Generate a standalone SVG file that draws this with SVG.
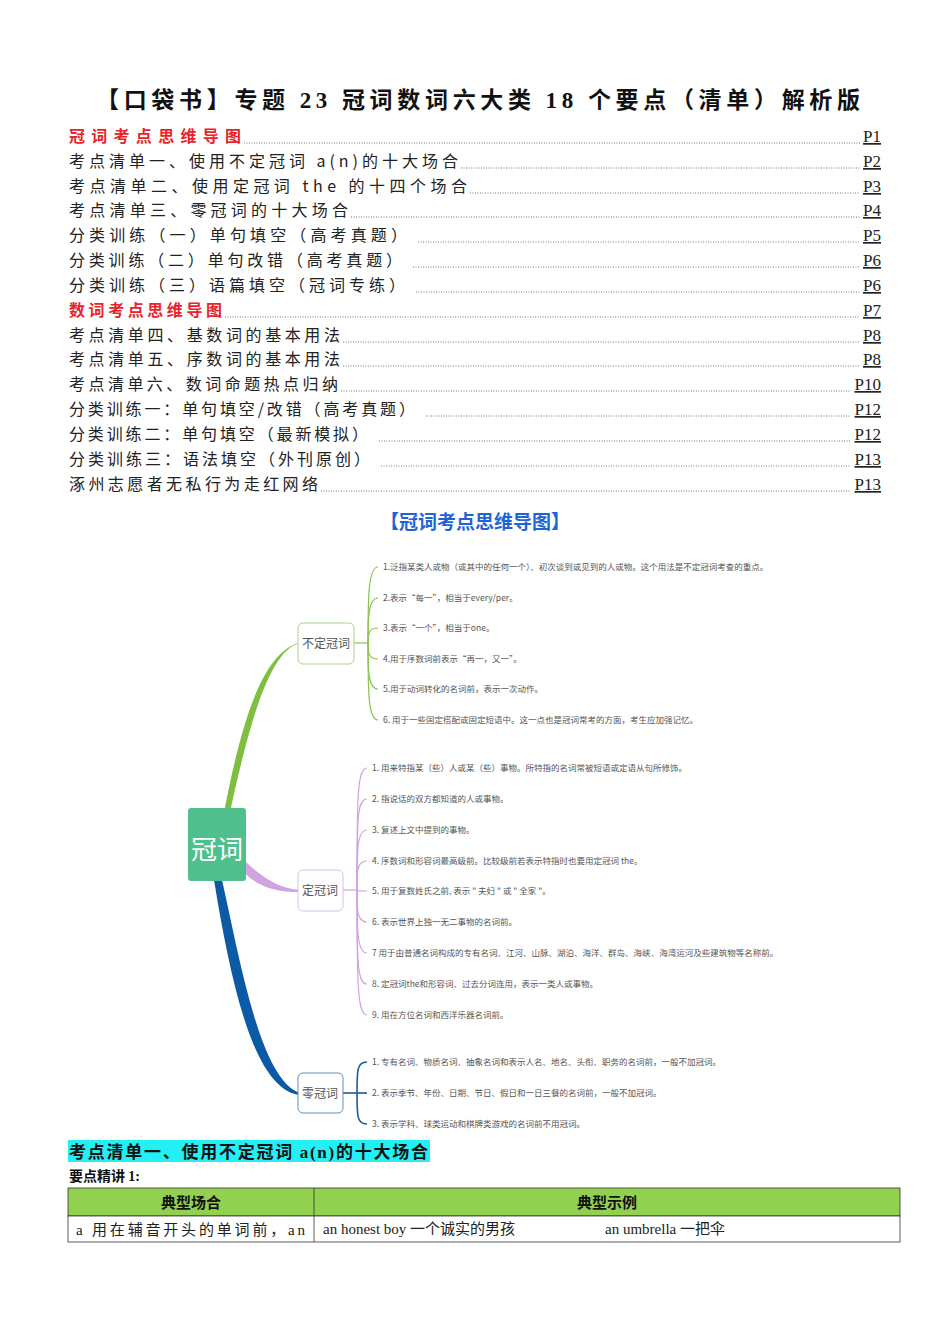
<svg xmlns="http://www.w3.org/2000/svg" width="950" height="1344" viewBox="0 0 950 1344">
<style>
.toc{font-family:"Noto Sans CJK SC","Liberation Serif",serif;font-size:16px;fill:#222}
.red{fill:#e8232a;font-weight:bold}
.pg{font-family:"Liberation Serif",serif;font-size:17px;fill:#222;text-decoration:underline}
.lead{stroke:#555;stroke-width:0.8;stroke-dasharray:1 1.5}
.it{font-family:"Noto Sans CJK SC",sans-serif;font-size:8.5px;fill:#555}
.nd{font-family:"Noto Sans CJK SC",sans-serif;font-size:12px;fill:#555}
.box{fill:#fff;stroke-width:1}
</style>
<rect width="950" height="1344" fill="#fff"/>
<text x="96" y="108" textLength="764" lengthAdjust="spacing" font-family="Noto Sans CJK SC,Liberation Serif,serif" font-size="23" font-weight="bold" fill="#111">【口袋书】专题 <tspan font-family="Liberation Serif">23</tspan> 冠词数词六大类 <tspan font-family="Liberation Serif">18</tspan> 个要点（清单）解析版</text>
<g id="toc">
<text class="toc red" x="69" y="142" textLength="172" lengthAdjust="spacing">冠词考点思维导图</text>
<text class="toc" x="69" y="167" textLength="389" lengthAdjust="spacing">考点清单一、使用不定冠词 a(n)的十大场合</text>
<text class="toc" x="69" y="192" textLength="398" lengthAdjust="spacing">考点清单二、使用定冠词 the 的十四个场合</text>
<text class="toc" x="69" y="216" textLength="279" lengthAdjust="spacing">考点清单三、零冠词的十大场合</text>
<text class="toc" x="69" y="241" textLength="338" lengthAdjust="spacing">分类训练（一）单句填空（高考真题）</text>
<text class="toc" x="69" y="266" textLength="333" lengthAdjust="spacing">分类训练（二）单句改错（高考真题）</text>
<text class="toc" x="69" y="291" textLength="336" lengthAdjust="spacing">分类训练（三）语篇填空（冠词专练）</text>
<text class="toc red" x="69" y="316" textLength="153" lengthAdjust="spacing">数词考点思维导图</text>
<text class="toc" x="69" y="341" textLength="271" lengthAdjust="spacing">考点清单四、基数词的基本用法</text>
<text class="toc" x="69" y="365" textLength="271" lengthAdjust="spacing">考点清单五、序数词的基本用法</text>
<text class="toc" x="69" y="390" textLength="269" lengthAdjust="spacing">考点清单六、数词命题热点归纳</text>
<text class="toc" x="69" y="415" textLength="346" lengthAdjust="spacing">分类训练一：单句填空/改错（高考真题）</text>
<text class="toc" x="69" y="440" textLength="299" lengthAdjust="spacing">分类训练二：单句填空（最新模拟）</text>
<text class="toc" x="69" y="465" textLength="301" lengthAdjust="spacing">分类训练三：语法填空（外刊原创）</text>
<text class="toc" x="69" y="490" textLength="249" lengthAdjust="spacing">涿州志愿者无私行为走红网络</text>
<g class="lead">
<line x1="244" y1="143" x2="860" y2="143"/><line x1="461" y1="168" x2="860" y2="168"/><line x1="470" y1="193" x2="860" y2="193"/><line x1="351" y1="217" x2="860" y2="217"/><line x1="418" y1="242" x2="860" y2="242"/><line x1="413" y1="267" x2="860" y2="267"/><line x1="416" y1="292" x2="860" y2="292"/><line x1="225" y1="317" x2="860" y2="317"/><line x1="343" y1="342" x2="860" y2="342"/><line x1="343" y1="366" x2="860" y2="366"/><line x1="341" y1="391" x2="850" y2="391"/><line x1="426" y1="416" x2="850" y2="416"/><line x1="379" y1="441" x2="850" y2="441"/><line x1="381" y1="466" x2="850" y2="466"/><line x1="321" y1="491" x2="850" y2="491"/>
</g>
<g class="pg" text-anchor="end">
<text x="881" y="142">P1</text><text x="881" y="167">P2</text><text x="881" y="192">P3</text><text x="881" y="216">P4</text><text x="881" y="241">P5</text><text x="881" y="266">P6</text><text x="881" y="291">P6</text><text x="881" y="316">P7</text><text x="881" y="341">P8</text><text x="881" y="365">P8</text><text x="881" y="390">P10</text><text x="881" y="415">P12</text><text x="881" y="440">P12</text><text x="881" y="465">P13</text><text x="881" y="490">P13</text>
</g>
</g>
<text x="475" y="529" text-anchor="middle" font-family="Noto Sans CJK SC,sans-serif" font-size="19" font-weight="bold" fill="#1e64d8">【冠词考点思维导图】</text>
<g id="connectors" fill="none">
<path d="M230 812 C250 720 270 650 300 643 L298 643 C262 655 242 720 224 812 Z" fill="#7fbf3f"/>
<path d="M246 862 C265 880 280 888 300 890 L300 892 C275 893 255 885 244 872 Z" fill="#cfa4e0"/>
<path d="M222 880 C240 960 260 1080 300 1093 L300 1095 C255 1090 232 990 214 880 Z" fill="#0b5aa6"/>
<g stroke="#8cc152" stroke-width="1.2">
<path d="M354 643 H368"/>
<path d="M368 643 C368 600 368 567 378 567"/><path d="M368 643 C368 620 368 598 378 598"/><path d="M368 643 C368 635 368 628 378 628"/><path d="M368 643 C368 652 368 659 378 659"/><path d="M368 643 C368 670 368 689 378 689"/><path d="M368 643 C368 690 368 720 378 720"/>
</g>
<g stroke="#cfa4e0" stroke-width="1.2">
<path d="M343 890 H357"/>
<path d="M357 890 C357 800 357 768 367 768"/><path d="M357 890 C357 820 357 799 367 799"/><path d="M357 890 C357 850 357 830 367 830"/><path d="M357 890 C357 870 357 861 367 861"/><path d="M357 890 C357 891 357 891 367 891"/><path d="M357 890 C357 910 357 922 367 922"/><path d="M357 890 C357 930 357 953 367 953"/><path d="M357 890 C357 960 357 984 367 984"/><path d="M357 890 C357 980 357 1015 367 1015"/>
</g>
<g stroke="#1a5a96" stroke-width="1.6">
<path d="M343 1093 H357"/>
<path d="M357 1093 C357 1070 357 1062 367 1062"/><path d="M357 1093 H367"/><path d="M357 1093 C357 1116 357 1124 367 1124"/>
</g>
</g>
<g id="root"><rect x="188" y="808" width="58" height="73" rx="3" fill="#4fc08d"/><text x="217" y="859" text-anchor="middle" font-family="Noto Sans CJK SC,sans-serif" font-size="26" fill="#fff">冠词</text></g>
<g id="n1"><rect class="box" x="298" y="623" width="56" height="41" rx="5" stroke="#a8d48a"/><text class="nd" x="326" y="648" text-anchor="middle">不定冠词</text></g>
<g id="n2"><rect class="box" x="298" y="870" width="45" height="41" rx="5" stroke="#dcc0e8"/><text class="nd" x="320" y="895" text-anchor="middle">定冠词</text></g>
<g id="n3"><rect class="box" x="298" y="1073" width="45" height="40" rx="5" stroke="#5f8fba"/><text class="nd" x="320" y="1098" text-anchor="middle">零冠词</text></g>
<g id="items1" class="it">
<text class="it" x="383" y="570">1.泛指某类人或物（或其中的任何一个）、初次谈到或见到的人或物。这个用法是不定冠词考查的重点。</text>
<text class="it" x="383" y="601">2.表示“每一”，相当于every/per。</text>
<text class="it" x="383" y="631">3.表示“一个”，相当于one。</text>
<text class="it" x="383" y="662">4.用于序数词前表示“再一，又一”。</text>
<text class="it" x="383" y="692">5.用于动词转化的名词前，表示一次动作。</text>
<text class="it" x="383" y="723">6. 用于一些固定搭配或固定短语中。这一点也是冠词常考的方面，考生应加强记忆。</text>
</g>
<g id="items2">
<text class="it" x="372" y="771">1. 用来特指某（些）人或某（些）事物。所特指的名词常被短语或定语从句所修饰。</text>
<text class="it" x="372" y="802">2. 指说话的双方都知道的人或事物。</text>
<text class="it" x="372" y="833">3. 复述上文中提到的事物。</text>
<text class="it" x="372" y="864">4. 序数词和形容词最高级前。比较级前若表示特指时也要用定冠词 the。</text>
<text class="it" x="372" y="894">5. 用于复数姓氏之前, 表示 " 夫妇 " 或 " 全家 "。</text>
<text class="it" x="372" y="925">6. 表示世界上独一无二事物的名词前。</text>
<text class="it" x="372" y="956">7 用于由普通名词构成的专有名词、江河、山脉、湖泊、海洋、群岛、海峡、海湾运河及些建筑物等名称前。</text>
<text class="it" x="372" y="987">8. 定冠词the和形容词、过去分词连用，表示一类人或事物。</text>
<text class="it" x="372" y="1018">9. 用在方位名词和西洋乐器名词前。</text>
</g>
<g id="items3">
<text class="it" x="372" y="1065">1. 专有名词、物质名词、抽象名词和表示人名、地名、头衔、职务的名词前，一般不加冠词。</text>
<text class="it" x="372" y="1096">2. 表示季节、年份、日期、节日、假日和一日三餐的名词前，一般不加冠词。</text>
<text class="it" x="372" y="1127">3. 表示学科、球类运动和棋牌类游戏的名词前不用冠词。</text>
</g>
<g id="section">
<rect x="68" y="1140" width="362" height="22" fill="#22f0f5"/>
<text x="69" y="1158" textLength="359" lengthAdjust="spacing" font-family="Noto Sans CJK SC,sans-serif" font-size="17" font-weight="bold" fill="#111">考点清单一、使用不定冠词 <tspan font-family="Liberation Serif">a(n)</tspan>的十大场合</text>
<text x="69" y="1181" font-family="Noto Sans CJK SC,Liberation Serif,serif" font-size="14" font-weight="bold" fill="#111">要点精讲 <tspan font-family="Liberation Serif">1:</tspan></text>
<rect x="68" y="1188" width="832" height="28" fill="#92d050" stroke="#333" stroke-width="0.8"/>
<rect x="68" y="1216" width="832" height="26" fill="#fff" stroke="#333" stroke-width="0.8"/>
<line x1="314" y1="1188" x2="314" y2="1242" stroke="#333" stroke-width="0.8"/>
<text x="191" y="1208" text-anchor="middle" font-family="Noto Sans CJK SC,sans-serif" font-size="15" font-weight="bold" fill="#111">典型场合</text>
<text x="607" y="1208" text-anchor="middle" font-family="Noto Sans CJK SC,sans-serif" font-size="15" font-weight="bold" fill="#111">典型示例</text>
<text x="76" y="1235" font-family="Liberation Serif,Noto Sans CJK SC,serif" font-size="15" fill="#222" textLength="229" lengthAdjust="spacing">a 用在辅音开头的单词前，an</text>
<text x="323" y="1234" font-family="Liberation Serif,Noto Sans CJK SC,serif" font-size="15" fill="#222">an honest boy 一个诚实的男孩</text>
<text x="605" y="1234" font-family="Liberation Serif,Noto Sans CJK SC,serif" font-size="15" fill="#222">an umbrella 一把伞</text>
</g>
</svg>
